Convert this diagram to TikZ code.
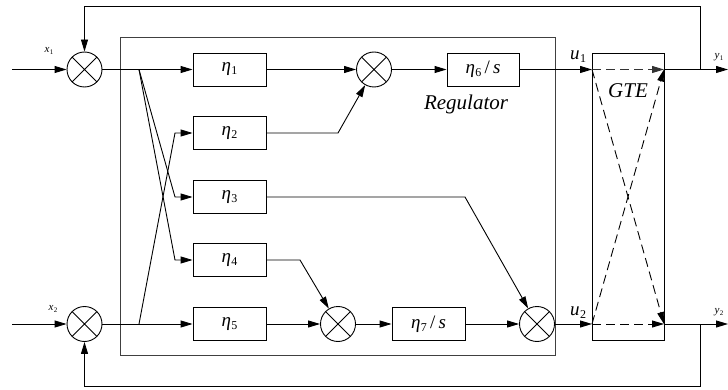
\documentclass[tikz,border=0pt]{standalone}
\usepackage{fontspec}
\setmainfont{Liberation Serif}
\usetikzlibrary{arrows.meta}
\newcommand{\vsub}[3]{{\itshape #1}\kern0.5pt\raisebox{-0.35ex}{\fontsize{#3}{#3}\selectfont\upshape #2}}
\tikzset{
  ln/.style={line width=0.9pt},
  arr/.style={ln,-{Triangle[length=12pt,width=7pt]}},
  blk/.style={draw,ln,minimum width=73pt,minimum height=33pt,inner sep=0pt,font=\fontsize{19}{20}\selectfont},
  sumc/.style={draw,ln,circle,minimum size=35pt,inner sep=0pt,
    path picture={\draw[ln] (path picture bounding box.north west)--(path picture bounding box.south east)
      (path picture bounding box.north east)--(path picture bounding box.south west);}},
  small/.style={font=\fontsize{11}{12}\selectfont},
  mid/.style={font=\fontsize{19}{20}\selectfont},
  big/.style={font=\fontsize{21}{24}\selectfont\itshape},
  dsh/.style={dash pattern=on 9pt off 5pt}
}
\begin{document}
\begin{tikzpicture}[x=1pt,y=-1pt]
\useasboundingbox (0,0) rectangle (728,390);
% regulator frame
\draw[line width=0.8pt,black!75] (120,37) rectangle (555,355);
% summers
\node[sumc] (s1) at (84.5,69.5) {};
\node[sumc] (s2) at (84.5,324) {};
\node[sumc] (m1) at (374,69.5) {};
\node[sumc] (m2) at (338,324) {};
\node[sumc] (m3) at (537,324) {};
% blocks
\node[blk] (e1) at (229.5,69.5) {\vsub{η}{1}{12}};
\node[blk] (e2) at (229.5,133) {\vsub{η}{2}{12}};
\node[blk] (e3) at (229.5,197) {\vsub{η}{3}{12}};
\node[blk] (e4) at (229.5,260) {\vsub{η}{4}{12}};
\node[blk] (e5) at (229.5,324) {\vsub{η}{5}{12}};
\node[blk,minimum width=72pt] (e6) at (483,69.5) {\vsub{η}{6}{12}\,/\,\textit{s}};
\node[blk] (e7) at (428.5,324) {\vsub{η}{7}{12}\,/\,\textit{s}};
\node[draw,ln,minimum width=72pt,minimum height=287pt,inner sep=0pt] (gte) at (628,196.5) {};
% labels
\node[small] (lx1) at (49,51) {\vsub{x}{1}{7}};
\node[small] (lx2) at (53,309) {\vsub{x}{2}{7}};
\node[mid] (lu1) at (578,57) {\vsub{u}{1}{12}};
\node[mid] (lu2) at (578,313) {\vsub{u}{2}{12}};
\node[small] (ly1) at (719,57) {\vsub{y}{1}{7}};
\node[small] (ly2) at (719,312) {\vsub{y}{2}{7}};
\node[big] (lreg) at (466,104) {Regulator};
\node[big] (lgte) at (628,91) {GTE};
% coordinates
\coordinate (in1) at (12,69.5);
\coordinate (in2) at (12,324);
\coordinate (br1) at (139,69.5);
\coordinate (br2) at (139,324);
\coordinate (k2) at (175,133);
\coordinate (k3) at (175,197);
\coordinate (k4) at (175,260);
\coordinate (j2) at (338,133);
\coordinate (j3) at (465,197);
\coordinate (j4) at (300,260);
\coordinate (g1in) at (592,69.5);
\coordinate (g2in) at (592,324);
\coordinate (g1out) at (664,69.5);
\coordinate (g2out) at (664,324);
\coordinate (out1) at (728,69.5);
\coordinate (out2) at (728,324);
\coordinate (fb1) at (700,69.5);
\coordinate (fb2) at (700,324);
\coordinate (fbt) at (700,6);
\coordinate (fbb) at (700,386);
% connectors
\draw[arr] (in1) -- (s1);
\draw[arr] (in2) -- (s2);
\draw[arr] (s1) -- (e1);
\draw[arr] (s2) -- (e5);
\draw[arr] (br1) -- (k3) -- (e3);
\draw[arr] (br1) -- (k4) -- (e4);
\draw[arr] (br2) -- (k2) -- (e2);
\draw[arr] (e1) -- (m1);
\draw[arr] (e2) -- (j2) -- (m1);
\draw[arr] (m1) -- (e6);
\draw[arr] (e3) -- (j3) -- (m3);
\draw[arr] (e4) -- (j4) -- (m2);
\draw[arr] (e5) -- (m2);
\draw[arr] (m2) -- (e7);
\draw[arr] (e7) -- (m3);
\draw[arr] (e6) -- (g1in);
\draw[arr] (m3) -- (g2in);
\draw[arr,dsh,black!80] (g1in) -- (g1out);
\draw[arr,dsh] (g2in) -- (g2out);
\draw[arr,dsh] (g1in) -- (g2out);
\draw[arr,dsh] (g2in) -- (g1out);
\draw[arr] (g1out) -- (out1);
\draw[arr] (g2out) -- (out2);
\draw[arr] (fb1) -- (fbt) -| (s1);
\draw[arr] (fb2) -- (fbb) -| (s2);
\end{tikzpicture}
\end{document}
